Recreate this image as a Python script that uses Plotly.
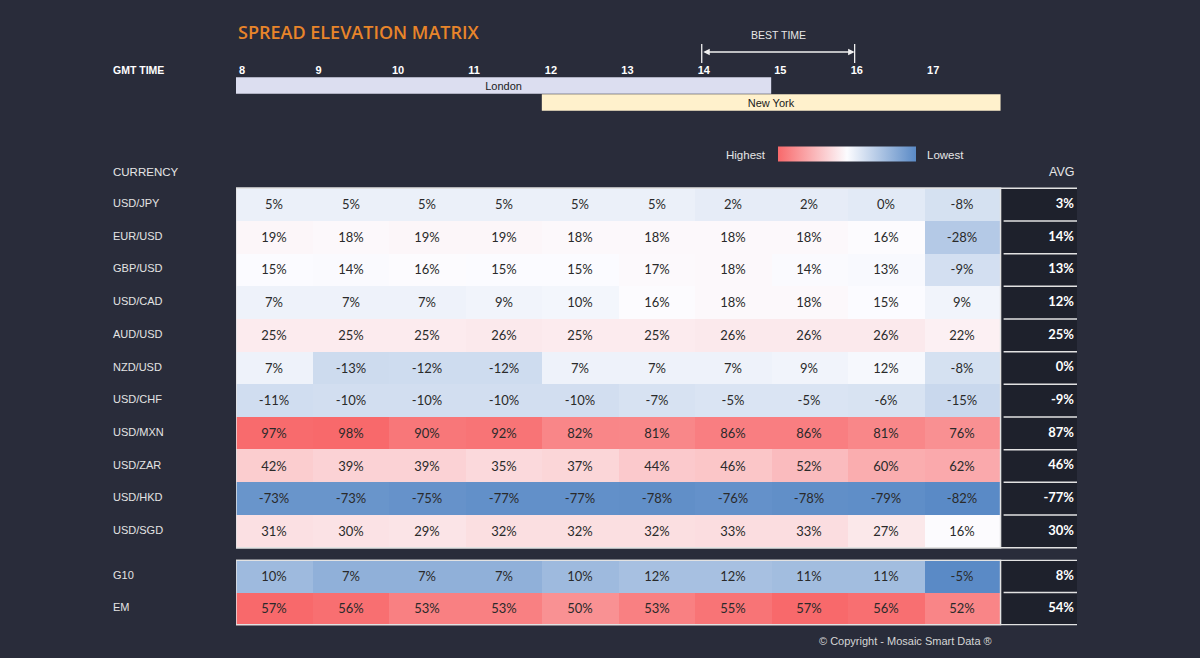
import numpy as np
import plotly.graph_objects as go

# ---- data ----
HOURS = [8, 9, 10, 11, 12, 13, 14, 15, 16, 17]

CURRENCIES = ["USD/JPY", "EUR/USD", "GBP/USD", "USD/CAD", "AUD/USD", "NZD/USD",
              "USD/CHF", "USD/MXN", "USD/ZAR", "USD/HKD", "USD/SGD"]
SPREADS = [
    [5, 5, 5, 5, 5, 5, 2, 2, 0, -8],
    [19, 18, 19, 19, 18, 18, 18, 18, 16, -28],
    [15, 14, 16, 15, 15, 17, 18, 14, 13, -9],
    [7, 7, 7, 9, 10, 16, 18, 18, 15, 9],
    [25, 25, 25, 26, 25, 25, 26, 26, 26, 22],
    [7, -13, -12, -12, 7, 7, 7, 9, 12, -8],
    [-11, -10, -10, -10, -10, -7, -5, -5, -6, -15],
    [97, 98, 90, 92, 82, 81, 86, 86, 81, 76],
    [42, 39, 39, 35, 37, 44, 46, 52, 60, 62],
    [-73, -73, -75, -77, -77, -78, -76, -78, -79, -82],
    [31, 30, 29, 32, 32, 32, 33, 33, 27, 16],
]
AVG = [3, 14, 13, 12, 25, 0, -9, 87, 46, -77, 30]

GROUPS = ["G10", "EM"]
GROUP_SPREADS = [
    [10, 7, 7, 7, 10, 12, 12, 11, 11, -5],
    [57, 56, 53, 53, 50, 53, 55, 57, 56, 52],
]
GROUP_AVG = [8, 54]

SESSIONS = ["London", "New York"]
SESSION_START = [8, 12]
SESSION_END = [15, 18]
BEST_START, BEST_END = 14, 16

# ---- style ----
W, H = 1200, 658
BG = "#292C3A"
AVG_BG = "#1E212C"
RED, WHITE, BLUE = "#F8696B", "#FCFCFF", "#5A8AC6"
LINE = "#E2E2E2"
SANS = "Liberation Sans, Arial, sans-serif"
CELL_FONT = "Lato, sans-serif"


def px_x(p):
    return p / W


def px_y(p):
    return 1 - p / H


def diverging(z):
    # excel style 3-colour scale: min -> blue, median -> white, max -> red
    arr = np.array(z, dtype=float)
    lo, hi, mid = arr.min(), arr.max(), np.median(arr)
    frac = (mid - lo) / (hi - lo)
    return [[0, BLUE], [frac, WHITE], [1, RED]], lo, hi


edges = HOURS + [HOURS[-1] + 1]
col_px = (1077 - 236) / 11.0
nudge = 7 / col_px

fig = go.Figure()

for yname, rows, z, avg in [("y", CURRENCIES, SPREADS, AVG), ("y2", GROUPS, GROUP_SPREADS, GROUP_AVG)]:
    cs, lo, hi = diverging(z)
    fig.add_trace(go.Heatmap(
        x=edges, y=rows, z=z, xaxis="x", yaxis=yname,
        colorscale=cs, zmin=lo, zmax=hi, showscale=False,
        text=[[f"{v}%" for v in r] for r in z], texttemplate="%{text}",
        textfont=dict(family=CELL_FONT, size=13, color="#2A2A2A"),
        hovertemplate="%{y} %{x}h: %{text}<extra></extra>",
    ))
    fig.add_trace(go.Scatter(
        x=[edges[-1] + 1 - 3 / col_px] * len(rows), y=rows, xaxis="x", yaxis=yname,
        mode="text", text=[f"<b>{v}%</b>" for v in avg], textposition="middle left",
        textfont=dict(family=CELL_FONT, size=13, color="white"),
        hoverinfo="skip", cliponaxis=False,
    ))

# session bars
fig.add_trace(go.Bar(
    y=SESSIONS, x=[e - s for s, e in zip(SESSION_START, SESSION_END)], base=SESSION_START,
    orientation="h", xaxis="x", yaxis="y3",
    marker=dict(color=["#DCDEF0", "#FFF1CC"], line=dict(width=0)),
    text=SESSIONS, textposition="inside", insidetextanchor="middle", constraintext="none",
    textfont=dict(family=SANS, size=11, color="#1A1A1A"), hoverinfo="skip",
))

# legend gradient
fig.add_trace(go.Scatter(
    x=[None], y=[None], mode="markers", xaxis="x", yaxis="y",
    marker=dict(color=[0], cmin=0, cmax=1, colorscale=[[0, RED], [0.5, WHITE], [1, BLUE]],
                showscale=True,
                colorbar=dict(orientation="h", x=px_x(847), xanchor="center",
                              y=px_y(153.5), yanchor="middle", len=138, lenmode="pixels",
                              thickness=15, xpad=0, ypad=0, outlinewidth=0,
                              showticklabels=False, ticks="")),
    hoverinfo="skip",
))

shapes = []
for yref, n in [("y", len(CURRENCIES)), ("y2", len(GROUPS))]:
    shapes.append(dict(type="rect", xref="x", yref=yref, x0=18, x1=19, y0=-0.5, y1=n - 0.5,
                       fillcolor=AVG_BG, line=dict(width=0), layer="below"))
    shapes.append(dict(type="rect", xref="x", yref=yref, x0=8, x1=18, y0=-0.5, y1=n - 0.5,
                       line=dict(color=LINE, width=1.5)))
    for k in range(n + 1):
        x0 = 8 if k in (0, n) else 18.04
        shapes.append(dict(type="line", xref="x", yref=yref, x0=x0, x1=19,
                           y0=k - 0.5, y1=k - 0.5, line=dict(color=LINE, width=1.5)))
for bx in (BEST_START, BEST_END):
    shapes.append(dict(type="line", xref="x", yref="paper", x0=bx + nudge, x1=bx + nudge,
                       y0=px_y(63), y1=px_y(44), line=dict(color="#F0F0F0", width=1.3)))

annotations = [
    dict(text="SPREAD ELEVATION MATRIX", x=px_x(236), y=px_y(32), xanchor="left",
         font=dict(family="Open Sans", size=18, color="#E8852A", weight=600)),
    dict(text="<b>GMT TIME</b>", x=px_x(111), y=px_y(70), xanchor="left",
         font=dict(family=SANS, size=10.5, color="white")),
    dict(text="BEST TIME", x=(BEST_START + BEST_END) / 2 + nudge, xref="x", y=px_y(35),
         xanchor="center", font=dict(family=SANS, size=10.5, color="#E6E6E6")),
    dict(text="", x=BEST_END + nudge, xref="x", y=px_y(52), ax=BEST_START + nudge, axref="x",
         ay=0, ayref="pixel", showarrow=True, arrowside="end+start", arrowhead=2,
         arrowsize=1, arrowwidth=1.3, arrowcolor="#F0F0F0", standoff=0, startstandoff=0),
    dict(text="Highest", x=px_x(768), y=px_y(155), xanchor="right",
         font=dict(family=SANS, size=11.5, color="#E6E6E6")),
    dict(text="Lowest", x=px_x(925), y=px_y(155), xanchor="left",
         font=dict(family=SANS, size=11.5, color="#E6E6E6")),
    dict(text="CURRENCY", x=px_x(111), y=px_y(172), xanchor="left",
         font=dict(family=SANS, size=11.5, color="#E6E6E6")),
    dict(text="AVG", x=px_x(1076), y=px_y(172), xanchor="right",
         font=dict(family=SANS, size=12.5, color="#E6E6E6")),
    dict(text="© Copyright - Mosaic Smart Data ®", x=px_x(905), y=px_y(641),
         xanchor="center", font=dict(family=SANS, size=11, color="#D6D6D6")),
]
for yref, rows in [("y", CURRENCIES), ("y2", GROUPS)]:
    for r in rows:
        annotations.append(dict(text=r, x=px_x(111), y=r, yref=yref, xanchor="left",
                                yshift=1.5, font=dict(family=SANS, size=11, color="#E4E4E4")))
for a in annotations:
    a.setdefault("xref", "paper")
    a.setdefault("yref", "paper")
    a.setdefault("yanchor", "middle")
    a.setdefault("showarrow", False)

fig.update_layout(
    width=W, height=H, margin=dict(l=0, r=0, t=0, b=0),
    paper_bgcolor=BG, plot_bgcolor=BG, showlegend=False, bargap=0.04,
    xaxis=dict(domain=[px_x(236), px_x(1077)], range=[8, 19], anchor="y3", side="top",
               tickvals=HOURS, ticktext=[f"<b>{h}</b>" for h in HOURS],
               ticklabelposition="outside right", ticklabelshift=3, ticks="",
               showgrid=False, zeroline=False, showline=False,
               tickfont=dict(family=SANS, size=11, color="white")),
    yaxis=dict(domain=[px_y(549.5), px_y(186.5)], autorange="reversed", visible=False),
    yaxis2=dict(domain=[px_y(625.5), px_y(559.5)], autorange="reversed", visible=False),
    yaxis3=dict(domain=[px_y(111), px_y(77)], autorange="reversed", visible=False),
    shapes=shapes, annotations=annotations,
)

# drop the default page margin so the figure sits at the window origin
fig.write_html("out.html", config={"displayModeBar": False},
               post_script="document.body.style.margin='0';")
